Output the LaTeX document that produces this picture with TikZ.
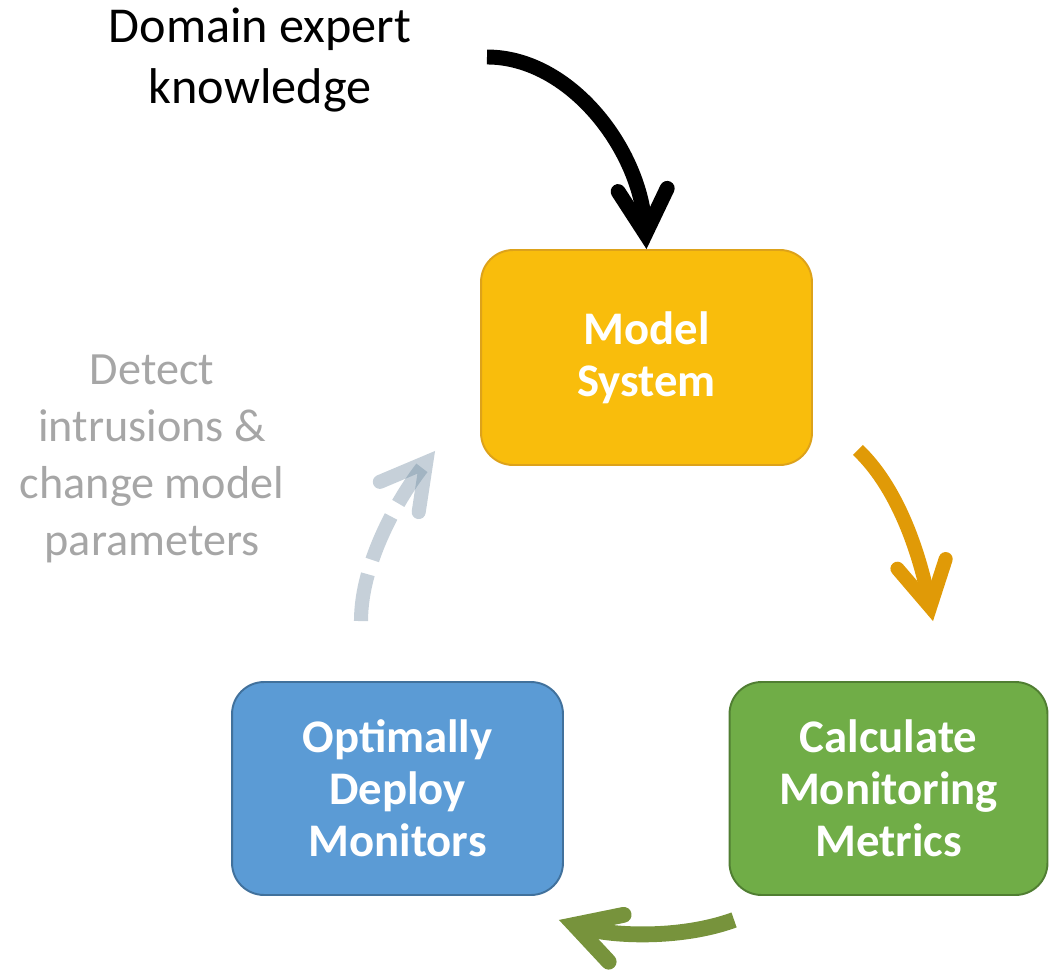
\documentclass[tikz,border=0pt]{standalone}
\usepackage{fontspec}
\setmainfont{Carlito}
\usetikzlibrary{arrows.meta,positioning}

\begin{document}
\begin{tikzpicture}[x=0.02cm,y=-0.02cm,
  box/.style={draw,line width=1.1pt,rounded corners=0.64cm,minimum width=6.62cm,minimum height=4.26cm,
    align=center,text=white,font=\bfseries\fontsize{26.6}{29.5}\selectfont},
  loop/.style={line width=#1,line cap=butt,-{Straight Barb[length=25pt,width=28pt,line cap=round,line join=miter]}}]

\definecolor{goldfill}{HTML}{F9BD0C}
\definecolor{goldline}{HTML}{DDA21A}
\definecolor{greenfill}{HTML}{70AD47}
\definecolor{greenline}{HTML}{507E32}
\definecolor{bluefill}{HTML}{5B9BD5}
\definecolor{blueline}{HTML}{41719C}
\definecolor{orangearr}{HTML}{E09A07}
\definecolor{olivearr}{HTML}{77933C}
\definecolor{slatearr}{HTML}{6B879E}
\definecolor{textgray}{HTML}{A6A6A6}

\useasboundingbox (0,0) rectangle (1049,970);

% the three steps
\node[box,fill=goldfill,draw=goldline,minimum height=4.3cm] (model) at (646.5,357.5) {Model\\System};
\node[box,fill=greenfill,draw=greenline,minimum width=6.36cm] (calc) at (888.5,788.5) {Calculate\\Monitoring\\Metrics};
\node[box,fill=bluefill,draw=blueline] (deploy) at (397.5,788.5) {Optimally\\Deploy\\Monitors};

% side texts
\node[align=center,inner sep=0pt,font=\fontsize{28.6}{34.5}\selectfont] (know) at (260,60) {Domain expert\\knowledge};
\node[align=center,inner sep=0pt,text=textgray,font=\fontsize{26.3}{32.4}\selectfont] (detect) at (152,459) {Detect\\intrusions \&\\change model\\parameters};

\coordinate (k0) at (487,57);

\draw[loop=8.5pt,black] (k0) .. controls +(83,0) and +(-6.5,-100) .. (model.north);
\draw[loop=8pt,orangearr] ([shift={(45,-16)}]model.south east) .. controls +(43,41) and +(-12,-60) .. ([shift={(44.5,-60)}]calc.north);
\draw[loop=9pt,olivearr] ([shift={(5.5,24)}]calc.south west) .. controls +(-55,20) and +(50,16) .. ([shift={(-5,24)}]deploy.south east);
\draw[loop=8pt,slatearr,opacity=0.39,dash pattern=on 27pt off 8.5pt] ([shift={(-36.5,-60)}]deploy.north) .. controls +(0,-60) and +(-35,45) .. ([shift={(-45,-15)}]model.south west);

\end{tikzpicture}
\end{document}
